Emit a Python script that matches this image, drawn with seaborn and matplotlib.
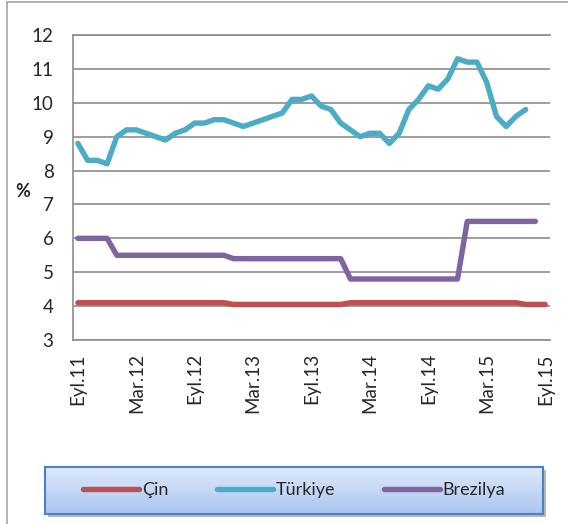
import numpy as np
import pandas as pd
import seaborn as sns
import matplotlib.pyplot as plt
import matplotlib.transforms as mtransforms
from matplotlib.colors import LinearSegmentedColormap
from matplotlib.lines import Line2D
from matplotlib.patches import Rectangle

# monthly values, Eyl.11 (Sep 2011) .. Eyl.15 (Sep 2015)
series = ["Çin", "Türkiye", "Brezilya"]
colors = ["#c0504d", "#4bacc6", "#8064a2"]
tick_labels = ["Eyl.11", "Mar.12", "Eyl.12", "Mar.13", "Eyl.13",
               "Mar.14", "Eyl.14", "Mar.15", "Eyl.15"]

cin = [4.1, 4.1, 4.1, 4.1, 4.1, 4.1, 4.1, 4.1, 4.1, 4.1, 4.1, 4.1,
       4.1, 4.1, 4.1, 4.1, 4.05, 4.05, 4.05, 4.05, 4.05, 4.05, 4.05, 4.05,
       4.05, 4.05, 4.05, 4.05, 4.1, 4.1, 4.1, 4.1, 4.1, 4.1, 4.1, 4.1,
       4.1, 4.1, 4.1, 4.1, 4.1, 4.1, 4.1, 4.1, 4.1, 4.1, 4.05, 4.05, 4.05]
turkiye = [8.8, 8.3, 8.3, 8.2, 9.0, 9.2, 9.2, 9.1, 9.0, 8.9, 9.1, 9.2,
           9.4, 9.4, 9.5, 9.5, 9.4, 9.3, 9.4, 9.5, 9.6, 9.7, 10.1, 10.1,
           10.2, 9.9, 9.8, 9.4, 9.2, 9.0, 9.1, 9.1, 8.8, 9.1, 9.8, 10.1,
           10.5, 10.4, 10.7, 11.3, 11.2, 11.2, 10.6, 9.6, 9.3, 9.6, 9.8,
           np.nan, np.nan]
brezilya = [6.0, 6.0, 6.0, 6.0, 5.5, 5.5, 5.5, 5.5, 5.5, 5.5, 5.5, 5.5,
            5.5, 5.5, 5.5, 5.5, 5.4, 5.4, 5.4, 5.4, 5.4, 5.4, 5.4, 5.4,
            5.4, 5.4, 5.4, 5.4, 4.8, 4.8, 4.8, 4.8, 4.8, 4.8, 4.8, 4.8,
            4.8, 4.8, 4.8, 4.8, 6.5, 6.5, 6.5, 6.5, 6.5, 6.5, 6.5, 6.5, np.nan]

sns.set_theme(style="white")
plt.rcParams["font.family"] = ["Lato", "DejaVu Sans"]

months = np.arange(len(cin))
df = pd.DataFrame({"ay": months + 0.5, "Çin": cin, "Türkiye": turkiye,
                   "Brezilya": brezilya})
df = df.melt(id_vars="ay", var_name="ulke", value_name="oran").dropna()

fig = plt.figure(figsize=(5.68, 5.24), dpi=100)
ax = fig.add_axes([73 / 568, 1 - 340 / 524, 477 / 568, 305 / 524])

sns.lineplot(data=df, x="ay", y="oran", hue="ulke", hue_order=series,
             palette=colors, linewidth=3.9, legend=False, ax=ax,
             solid_capstyle="round", solid_joinstyle="round")

grey = "#8c8c8c"
ax.set_xlim(0, 49)
ax.set_ylim(3, 12)
ax.set_xticks(range(0, 49, 6))
ax.set_xticklabels(tick_labels, rotation=90, fontsize=13.5)
ax.set_yticks(range(3, 13))
ax.set_yticklabels([str(v) for v in range(3, 13)], fontsize=13.5)
ax.set_xlabel("")
ax.set_ylabel("")
ax.yaxis.grid(True, color=grey, lw=1.2)
ax.xaxis.grid(False)
ax.spines["right"].set_visible(False)
for s in ["left", "top", "bottom"]:
    ax.spines[s].set_color(grey)
    ax.spines[s].set_linewidth(1.2)
ax.tick_params(axis="x", direction="inout", length=9, width=1.2, color=grey, pad=5)
ax.tick_params(axis="y", direction="in", length=5, width=1.2, color=grey, pad=14)
shift = mtransforms.ScaledTranslation(5 / 100, 0, fig.dpi_scale_trans)
for lbl in ax.get_xticklabels():
    lbl.set_transform(lbl.get_transform() + shift)

fig.text(23 / 568, 1 - 192 / 524, "%", fontsize=13, fontweight="bold",
         ha="center", va="center")

# outer chart border (left + top visible)
fig.add_artist(Line2D([7 / 568, 7 / 568], [0, 1 - 2 / 524],
                      transform=fig.transFigure, color="#a6a6a6", lw=1.2))
fig.add_artist(Line2D([7 / 568, 1], [1 - 2 / 524, 1 - 2 / 524],
                      transform=fig.transFigure, color="#a6a6a6", lw=1.2))

# legend box with gradient and shadow
fig.add_artist(Rectangle((48 / 568, 1 - 517 / 524), 498 / 568, 47 / 524,
                         transform=fig.transFigure, facecolor="#b8b8b8",
                         edgecolor="none", zorder=-1))
lax = fig.add_axes([45 / 568, 1 - 514 / 524, 498 / 568, 47 / 524])
cmap = LinearSegmentedColormap.from_list("leg", ["#dfe9fb", "#a9c6f1"])
lax.imshow(np.linspace(0, 1, 100).reshape(-1, 1), aspect="auto", cmap=cmap,
           extent=[0, 1, 0, 1], origin="upper")
lax.set_xticks([])
lax.set_yticks([])
for s in lax.spines.values():
    s.set_color("#4f81bd")
    s.set_linewidth(1.5)
handles = [Line2D([], [], color=c, lw=3.9, solid_capstyle="round") for c in colors]
lax.legend(handles, series, loc="center", ncol=3, frameon=False, fontsize=13,
           handlelength=3.1, handletextpad=0.15, columnspacing=2.7)

fig.savefig("out.png", dpi=100)
